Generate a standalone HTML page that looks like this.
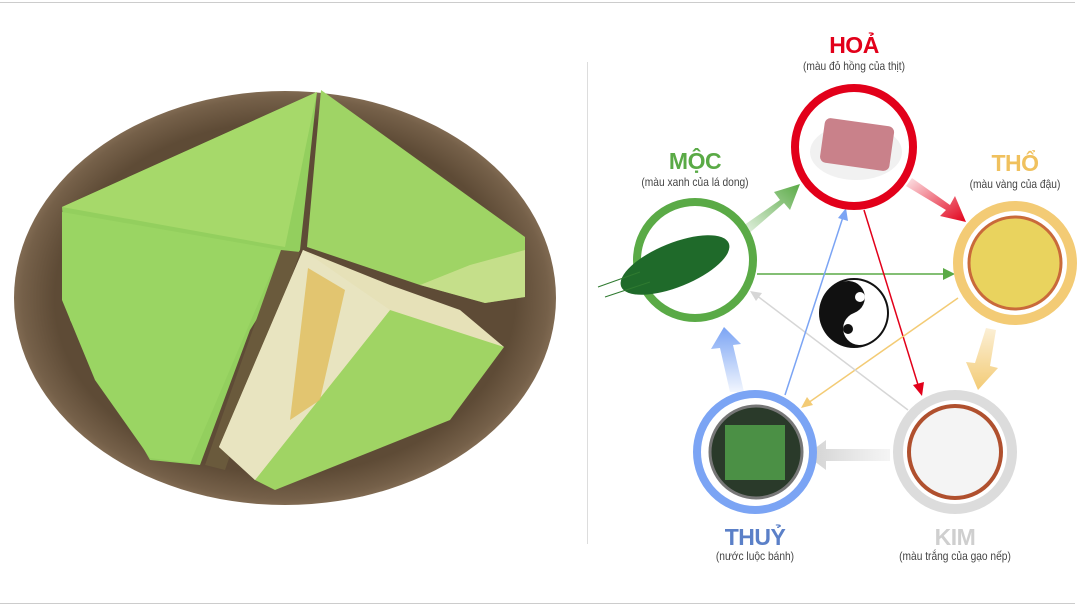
<!DOCTYPE html>
<html><head><meta charset="utf-8"><style>
body{margin:0;width:1085px;height:606px;background:#fff;overflow:hidden;position:relative;font-family:"Liberation Sans",sans-serif}
.t{position:absolute;text-align:center;width:240px;font-weight:bold;font-size:23px;letter-spacing:-0.5px}
.s{position:absolute;text-align:center;width:240px;font-size:12px;color:#444;font-family:"Liberation Sans Narrow","Liberation Sans",sans-serif;transform:scaleX(.85)}
</style></head><body>
<div style="position:absolute;left:0;top:2px;width:1075px;height:1px;background:#ccc"></div>
<div style="position:absolute;left:0;top:603px;width:1075px;height:1px;background:#ccc"></div>
<div style="position:absolute;left:587px;top:62px;width:1px;height:482px;background:#ddd"></div>
<svg width="1085" height="606" style="position:absolute;left:0;top:0">
<defs>
<radialGradient id="pl" cx="50%" cy="50%" r="50%"><stop offset="85%" stop-color="#5e4b36"/><stop offset="97%" stop-color="#756049"/><stop offset="100%" stop-color="#806a52"/></radialGradient>
<linearGradient id="gA" x1="0" y1="1" x2="1" y2="0"><stop offset="0" stop-color="#5aaa46" stop-opacity=".1"/><stop offset="1" stop-color="#5aaa46"/></linearGradient>
<linearGradient id="rA" x1="0" y1="0" x2="1" y2="1"><stop offset="0" stop-color="#e2001a" stop-opacity=".1"/><stop offset="1" stop-color="#e2001a"/></linearGradient>
<linearGradient id="yA" x1="0" y1="0" x2="0" y2="1"><stop offset="0" stop-color="#f3cb75" stop-opacity=".3"/><stop offset="1" stop-color="#f3cb75"/></linearGradient>
<linearGradient id="kA" x1="1" y1="0" x2="0" y2="0"><stop offset="0" stop-color="#dcdcdc" stop-opacity=".3"/><stop offset="1" stop-color="#d0d0d0"/></linearGradient>
<linearGradient id="bA" x1="0" y1="1" x2="0" y2="0"><stop offset="0" stop-color="#7ba4f4" stop-opacity=".1"/><stop offset="1" stop-color="#7ba4f4"/></linearGradient>
</defs>
<ellipse cx="285" cy="298" rx="271" ry="207" fill="url(#pl)"/>
<!-- cakes -->
<polygon points="62,207 317,92 300,250 250,330 200,465 150,460 70,320" fill="#93cf5e"/>
<polygon points="62,207 317,92 285,247" fill="#a6d96a"/>
<polygon points="62,212 281,250 190,463 150,458 95,380 62,300" fill="#9ad563"/>
<polygon points="281,250 300,252 225,470 205,465" fill="#6a5a3c"/>
<polygon points="321,90 525,237 525,297 485,303 420,285 307,247" fill="#9fd465"/>
<polygon points="420,285 485,303 525,297 525,250 470,265" fill="#d5e49a" opacity=".7"/>
<polygon points="303,250 390,285 460,310 504,347 255,480 219,447" fill="#e6e1b8"/>
<polygon points="305,265 360,290 330,400 295,410 295,330" fill="#e2c160"/>
<polygon points="390,310 504,347 450,420 275,490 255,480" fill="#a0d464"/>
<polygon points="390,310 255,480 219,447 303,250" fill="#e8e4c0"/>
<polygon points="308,268 345,290 320,400 290,420" fill="#e0c062" opacity=".85"/>
<!-- thick arrows -->
<g>
<polygon points="740,228 780,200 774,192 800,184 790,210 784,203 746,236" fill="url(#gA)"/>
<polygon points="912,178 950,205 955,196 966,222 940,216 946,210 906,186" fill="url(#rA)"/>
<polygon points="996,330 990,366 998,368 978,390 966,362 975,363 986,328" fill="url(#yA)"/>
<polygon points="890,449 826,449 826,440 806,455 826,470 826,461 890,461" fill="url(#kA)"/>
<polygon points="744,392 733,345 741,344 724,327 711,349 720,348 730,392" fill="url(#bA)"/>
</g>
<g stroke-width="1.5" fill="none">
<line x1="757" y1="274" x2="948" y2="274" stroke="#5aaa46"/><polygon points="955,274 943,268 943,280" fill="#5aaa46"/>
<line x1="864" y1="210" x2="919" y2="388" stroke="#e2001a"/><polygon points="922,396 913,385 924,382" fill="#e2001a"/>
<line x1="958" y1="298" x2="808" y2="403" stroke="#f3cb75"/><polygon points="801,408 807,397 813,405" fill="#f3cb75"/>
<line x1="908" y1="410" x2="756" y2="295" stroke="#d6d6d6"/><polygon points="750,291 762,293 756,301" fill="#d6d6d6"/>
<line x1="785" y1="395" x2="843" y2="217" stroke="#7ba4f4"/><polygon points="846,208 848,221 838,218" fill="#7ba4f4"/>
</g>
<circle cx="854" cy="147" r="59" fill="#fff" stroke="#e2001a" stroke-width="8"/>
<ellipse cx="856" cy="152" rx="46" ry="28" fill="#f1f1f1"/>
<rect x="822" y="122" width="70" height="45" rx="6" fill="#c9818a" transform="rotate(8 857 145)"/>
<circle cx="695" cy="260" r="58" fill="#fff" stroke="#5aaa46" stroke-width="8"/>
<ellipse cx="675" cy="265" rx="58" ry="22" fill="#1f6a2a" transform="rotate(-22 675 265)"/>
<line x1="598" y1="287" x2="640" y2="272" stroke="#2f7a30"/><line x1="605" y1="297" x2="650" y2="282" stroke="#2f7a30"/>
<circle cx="1015" cy="263" r="57" fill="#fff" stroke="#f3cb75" stroke-width="10"/>
<circle cx="1015" cy="263" r="46" fill="#e9d35e" stroke="#c96a3a" stroke-width="3"/>
<circle cx="755" cy="452" r="58" fill="#fff" stroke="#7ba4f4" stroke-width="8"/>
<circle cx="756" cy="452" r="46" fill="#2a3a2a" stroke="#777" stroke-width="3"/>
<rect x="725" y="425" width="60" height="55" fill="#4f9a48" opacity=".9"/>
<circle cx="955" cy="452" r="57" fill="#fff" stroke="#dcdcdc" stroke-width="10"/>
<circle cx="955" cy="452" r="46" fill="#f4f4f4" stroke="#b0502e" stroke-width="4"/>
<g transform="translate(854,313)">
<circle r="35" fill="#111"/>
<path d="M0,-33 A33,33 0 0 1 0,33 A16.5,16.5 0 0 1 0,0 A16.5,16.5 0 0 0 0,-33Z" fill="#fff" transform="rotate(-20)"/>
<circle r="5" cx="6" cy="-16" fill="#fff"/><circle r="5" cx="-6" cy="16" fill="#111"/>
</g>
</svg>
<div class="t" style="left:734px;top:32px;color:#e2001a">HOẢ</div>
<div class="s" style="left:734px;top:59px">(màu đỏ hồng của thịt)</div>
<div class="t" style="left:575px;top:148px;color:#5aaa46">MỘC</div>
<div class="s" style="left:575px;top:175px">(màu xanh của lá dong)</div>
<div class="t" style="left:895px;top:150px;color:#f0c15e">THỔ</div>
<div class="s" style="left:895px;top:177px">(màu vàng của đậu)</div>
<div class="t" style="left:635px;top:524px;color:#5b80c8">THUỶ</div>
<div class="s" style="left:635px;top:549px">(nước luộc bánh)</div>
<div class="t" style="left:835px;top:524px;color:#cfcfcf">KIM</div>
<div class="s" style="left:835px;top:549px">(màu trắng của gạo nếp)</div>
</body></html>
